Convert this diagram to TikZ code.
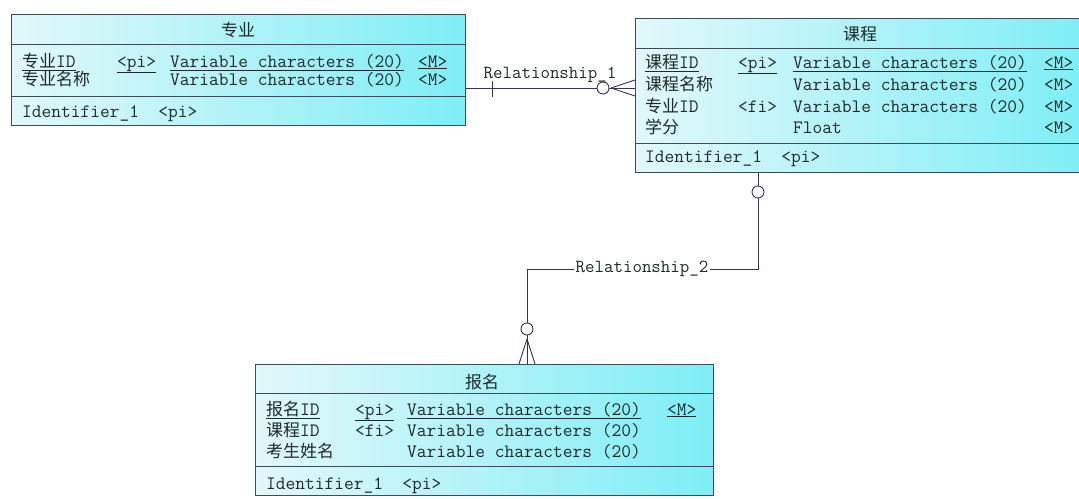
\documentclass[tikz,border=0pt]{standalone}
\usepackage{fontspec}
\newfontfamily\monof{Latin Modern Mono}
\newfontfamily\cnf{Noto Sans CJK SC}
\newcommand{\zhc}[1]{{\cnf\fontsize{17}{18}\selectfont #1}}
\definecolor{cyanL}{HTML}{E2F8FA}
\definecolor{cyanR}{HTML}{7EEEF6}
\definecolor{boxc}{HTML}{3E4C5A}
\definecolor{txtc}{HTML}{1E2A2A}
\definecolor{connc}{HTML}{33335A}
\begin{document}
\begin{tikzpicture}[x=1pt,y=-1pt,
  entity/.style={rectangle, draw=boxc, line width=1pt, left color=cyanL, right color=cyanR, inner sep=0, anchor=north west},
  sepline/.style={draw=boxc, line width=1pt},
  tx/.style={anchor=base west, inner sep=0, text=txtc, font=\monof\fontsize{18.9}{18}\selectfont},
  ttl/.style={anchor=base, inner sep=0, text=txtc},
  conn/.style={draw=connc, line width=0.9pt},
  circ/.style={circle, draw=connc, line width=0.9pt, fill=white, minimum size=12, inner sep=0},
  lbl/.style={inner sep=1.5pt, text=txtc, font=\monof\fontsize{18.4}{18}\selectfont}
]
\useasboundingbox (0,0) rectangle (1079,498);
\fill[white] (0,0) rectangle (1079,498);

% ---------- Entity 1: 专业 ----------
\node[entity, minimum width=454, minimum height=111] (b1) at (11,14) {};
\draw[sepline] (b1.west |- 0,44) -- (b1.east |- 0,44);
\draw[sepline] (b1.west |- 0,96) -- (b1.east |- 0,96);
\node[ttl] (b1t) at (238,36) {\zhc{专业}};
\node[tx] (b1n1) at (22,67) {\underline{\zhc{专业}ID}};
\node[tx] (b1k1) at (117,67) {\underline{<pi>}};
\node[tx] (b1d1) at (170,67) {\underline{Variable characters (20)}};
\node[tx] (b1m1) at (418,67) {\underline{<M>}};
\node[tx] (b1n2) at (22,85) {\zhc{专业名称}};
\node[tx] (b1d2) at (170,85) {Variable characters (20)};
\node[tx] (b1m2) at (418,85) {<M>};
\node[tx] (b1i) at (22,117) {Identifier\_1~~<pi>};

% ---------- Entity 2: 课程 ----------
\node[entity, minimum width=450, minimum height=154] (b2) at (635,18) {};
\draw[sepline] (b2.west |- 0,48) -- (b2.east |- 0,48);
\draw[sepline] (b2.west |- 0,143) -- (b2.east |- 0,143);
\node[ttl] (b2t) at (860,40) {\zhc{课程}};
\node[tx] (b2n1) at (645,68) {\underline{\zhc{课程}ID}};
\node[tx] (b2k1) at (738,68) {\underline{<pi>}};
\node[tx] (b2d1) at (793,68) {\underline{Variable characters (20)}};
\node[tx] (b2m1) at (1044,68) {\underline{<M>}};
\node[tx] (b2n2) at (645,90) {\zhc{课程名称}};
\node[tx] (b2d2) at (793,90) {Variable characters (20)};
\node[tx] (b2m2) at (1044,90) {<M>};
\node[tx] (b2n3) at (645,112) {\zhc{专业}ID};
\node[tx] (b2k3) at (738,112) {<fi>};
\node[tx] (b2d3) at (793,112) {Variable characters (20)};
\node[tx] (b2m3) at (1044,112) {<M>};
\node[tx] (b2n4) at (645,133) {\zhc{学分}};
\node[tx] (b2d4) at (793,133) {Float};
\node[tx] (b2m4) at (1044,133) {<M>};
\node[tx] (b2i) at (645,162) {Identifier\_1~~<pi>};

% ---------- Entity 3: 报名 ----------
\node[entity, minimum width=458, minimum height=131] (b3) at (255,364) {};
\draw[sepline] (b3.west |- 0,393) -- (b3.east |- 0,393);
\draw[sepline] (b3.west |- 0,466) -- (b3.east |- 0,466);
\node[ttl] (b3t) at (482,388) {\zhc{报名}};
\node[tx] (b3n1) at (266,415) {\underline{\zhc{报名}ID}};
\node[tx] (b3k1) at (355,415) {\underline{<pi>}};
\node[tx] (b3d1) at (407,415) {\underline{Variable characters (20)}};
\node[tx] (b3m1) at (667,415) {\underline{<M>}};
\node[tx] (b3n2) at (266,436) {\zhc{课程}ID};
\node[tx] (b3k2) at (355,436) {<fi>};
\node[tx] (b3d2) at (407,436) {Variable characters (20)};
\node[tx] (b3n3) at (266,457) {\zhc{考生姓名}};
\node[tx] (b3d3) at (407,457) {Variable characters (20)};
\node[tx] (b3i) at (266,489) {Identifier\_1~~<pi>};

% ---------- Relationship_1 ----------
\draw[conn] (b1.east |- 0,88) -- (b2.west |- 0,88);
\draw[conn] (492,81) -- (492,97);
\node[circ] (c1) at (603,88) {};
\coordinate (f1) at (611,88);
\draw[conn] (f1) -- (b2.west |- 0,80);
\draw[conn] (f1) -- (b2.west |- 0,96);
\node[lbl, anchor=base] (r1) at (550,78) {Relationship\_1};

% ---------- Relationship_2 ----------
\draw[conn] (b2.south -| 758,0) -- (758,269) -- (527,269) -- (b3.north -| 527,0);
\node[circ] (c2) at (758,192) {};
\node[circ] (c3) at (527,329) {};
\coordinate (f2) at (527,339);
\draw[conn] (f2) -- (b3.north -| 519,0);
\draw[conn] (f2) -- (b3.north -| 535,0);
\node[lbl, fill=white] (r2) at (642,269) {Relationship\_2};
\end{tikzpicture}
\end{document}
